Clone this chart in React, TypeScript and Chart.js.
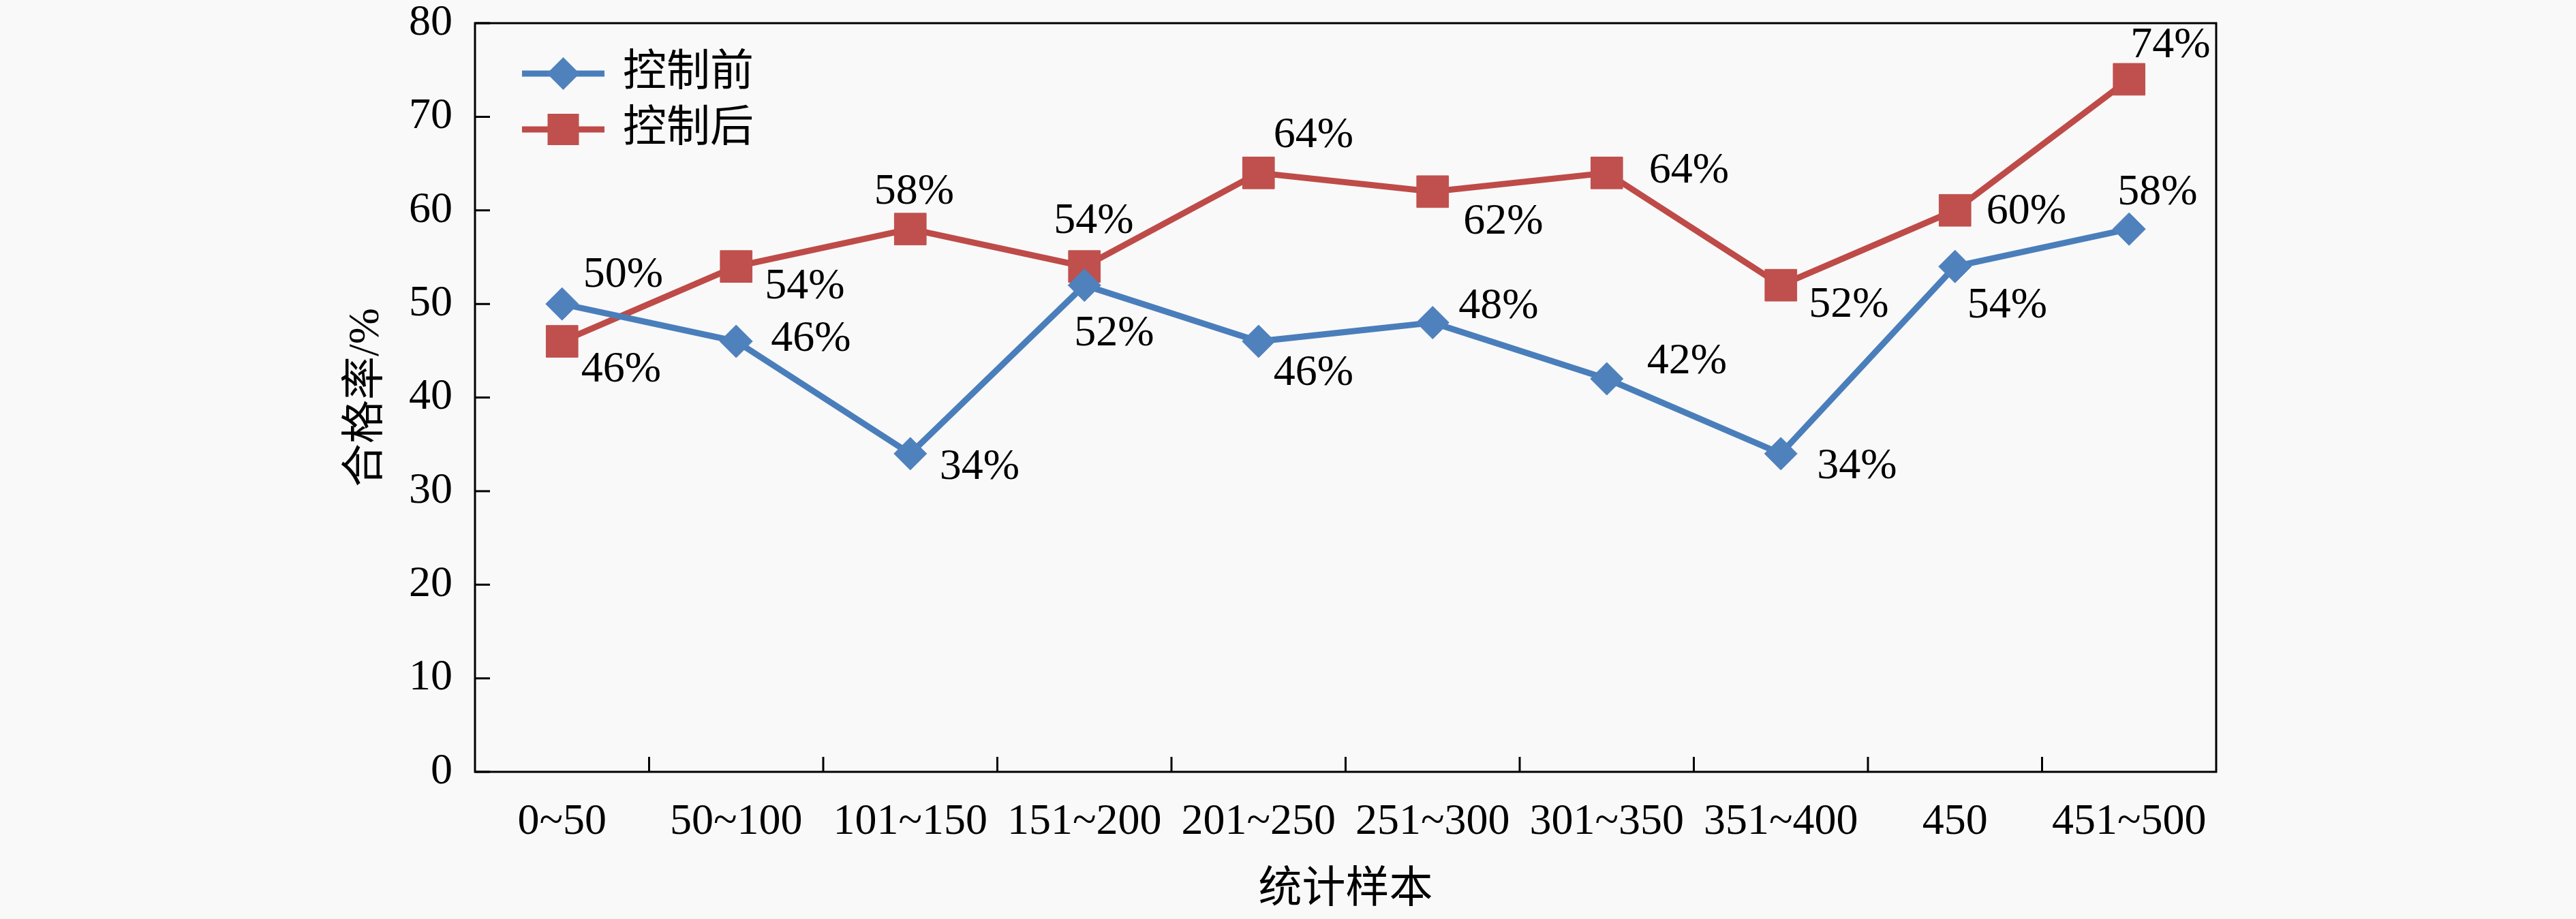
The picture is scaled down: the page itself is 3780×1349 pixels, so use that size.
import { useEffect, useRef } from "react";
import { Chart, registerables } from "chart.js";

Chart.register(...registerables);

// 统计样本分组
const categories = [
  "0~50",
  "50~100",
  "101~150",
  "151~200",
  "201~250",
  "251~300",
  "301~350",
  "351~400",
  "450",
  "451~500",
];

// 合格率 (%)
const beforeValues = [50, 46, 34, 52, 46, 48, 42, 34, 54, 58];
const afterValues = [46, 54, 58, 54, 64, 62, 64, 52, 60, 74];

const seriesNames = ["控制前", "控制后"];
const yTickValues = [0, 10, 20, 30, 40, 50, 60, 70, 80];

const xTitle = "统计样本";
const yTitle = "合格率/%";

// 数据标签相对点的偏移 [左边缘 dx, 中心 dy]
const beforeLabelOffsets = [
  [31, -42], [51, -3], [43, 20], [-15, 72], [22, 47],
  [38, -23], [59, -25], [53, 19], [18, 58], [-17, -53],
];
const afterLabelOffsets = [
  [28, 42], [42, 30], [-53, -54], [-45, -66], [22, -55],
  [45, 45], [62, -3], [41, 30], [46, 2], [2, -49],
];

const BLUE_LINE = "#4A7EBB";
const BLUE_MARK = "#4F81BD";
const RED_LINE = "#BE4B48";
const RED_MARK = "#C0504D";
const FONT_FAMILY = '"Liberation Serif", "Noto Sans CJK SC", serif';
const FONT_SIZE = 64;

const decorPlugin = {
  id: "decor",
  afterDatasetsDraw(chart: any) {
    const { ctx } = chart;
    const offsets = [beforeLabelOffsets, afterLabelOffsets];
    ctx.save();
    ctx.font = `${FONT_SIZE}px ${FONT_FAMILY}`;
    ctx.fillStyle = "#000";
    ctx.textAlign = "left";
    ctx.textBaseline = "middle";
    chart.data.datasets.forEach((ds: any, di: number) => {
      const meta = chart.getDatasetMeta(di);
      meta.data.forEach((pt: any, i: number) => {
        const [dx, dy] = offsets[di][i];
        ctx.fillText(`${ds.data[i]}%`, pt.x + dx, pt.y + dy);
      });
    });
    ctx.restore();
  },
  afterDraw(chart: any) {
    const { ctx, chartArea } = chart;
    const { left, right, top, bottom } = chartArea;
    const xScale = chart.scales.x;
    const yScale = chart.scales.y;
    ctx.save();

    // 边框
    ctx.strokeStyle = "#000";
    ctx.lineWidth = 3;
    ctx.strokeRect(left, top, right - left, bottom - top);

    // 内向刻度
    const tick = 22;
    ctx.beginPath();
    yTickValues.forEach((v) => {
      const y = yScale.getPixelForValue(v);
      ctx.moveTo(left, y);
      ctx.lineTo(left + tick, y);
    });
    const half = (xScale.getPixelForValue(1) - xScale.getPixelForValue(0)) / 2;
    for (let i = 1; i < categories.length; i++) {
      const x = xScale.getPixelForValue(i) - half;
      ctx.moveTo(x, bottom);
      ctx.lineTo(x, bottom - tick);
    }
    ctx.stroke();

    // 图例
    chart.data.datasets.forEach((ds: any, i: number) => {
      const y = top + 74 + i * 82;
      const x0 = left + 69;
      const x1 = left + 190;
      const cx = (x0 + x1) / 2;
      ctx.strokeStyle = ds.borderColor;
      ctx.lineWidth = ds.borderWidth;
      ctx.beginPath();
      ctx.moveTo(x0, y);
      ctx.lineTo(x1, y);
      ctx.stroke();
      ctx.fillStyle = ds.backgroundColor;
      ctx.beginPath();
      if (ds.pointStyle === "rect") {
        const s = 23;
        ctx.rect(cx - s, y - s, 2 * s, 2 * s);
      } else {
        const r = 24;
        ctx.moveTo(cx - r, y);
        ctx.lineTo(cx, y - r);
        ctx.lineTo(cx + r, y);
        ctx.lineTo(cx, y + r);
        ctx.closePath();
      }
      ctx.fill();
      ctx.fillStyle = "#000";
      ctx.font = `${FONT_SIZE}px ${FONT_FAMILY}`;
      ctx.textAlign = "left";
      ctx.textBaseline = "middle";
      ctx.fillText(ds.label, left + 217, y);
    });

    // 坐标轴标题
    ctx.fillStyle = "#000";
    ctx.font = `${FONT_SIZE}px ${FONT_FAMILY}`;
    ctx.textAlign = "center";
    ctx.textBaseline = "middle";
    ctx.fillText(xTitle, (left + right) / 2, 1307);
    ctx.translate(538, (top + bottom) / 2);
    ctx.rotate(-Math.PI / 2);
    ctx.fillText(yTitle, 0, 0);

    ctx.restore();
  },
};

const PassRateChart = () => {
  const canvasRef = useRef<HTMLCanvasElement>(null);

  useEffect(() => {
    document.body.style.margin = "0";
    document.body.style.background = "#f9f9f9";
    if (!canvasRef.current) return;
    const ctx = canvasRef.current.getContext("2d");
    if (!ctx) return;

    const tickFont = { family: FONT_FAMILY, size: FONT_SIZE };

    const chart = new Chart(ctx, {
      type: "line",
      data: {
        labels: categories,
        datasets: [
          {
            label: seriesNames[0],
            data: beforeValues,
            borderColor: BLUE_LINE,
            backgroundColor: BLUE_MARK,
            borderWidth: 9,
            pointStyle: "rectRot",
            pointRadius: 24,
            pointBorderWidth: 1,
            pointBorderColor: BLUE_MARK,
            pointBackgroundColor: BLUE_MARK,
            tension: 0,
          },
          {
            label: seriesNames[1],
            data: afterValues,
            borderColor: RED_LINE,
            backgroundColor: RED_MARK,
            borderWidth: 9,
            pointStyle: "rect",
            pointRadius: 33,
            pointBorderWidth: 1,
            pointBorderColor: RED_MARK,
            pointBackgroundColor: RED_MARK,
            tension: 0,
          },
        ],
      },
      options: {
        animation: false,
        responsive: true,
        maintainAspectRatio: false,
        layout: { padding: { top: 34, right: 528, left: 0, bottom: 0 } },
        plugins: {
          legend: { display: false },
          tooltip: { enabled: false },
        },
        scales: {
          x: {
            type: "category",
            offset: true,
            grid: { display: false },
            border: { display: false },
            ticks: {
              font: tickFont,
              color: "#000",
              padding: 28,
              maxRotation: 0,
              autoSkip: false,
            },
            afterFit: (scale: any) => {
              scale.height = 216;
              scale.paddingLeft = 0;
              scale.paddingRight = 0;
            },
          },
          y: {
            min: 0,
            max: 80,
            grid: { display: false },
            border: { display: false },
            ticks: {
              stepSize: 10,
              font: tickFont,
              color: "#000",
              padding: 25,
            },
            afterFit: (scale: any) => {
              scale.width = 697;
              scale.paddingTop = 0;
              scale.paddingBottom = 0;
            },
          },
        },
      },
      plugins: [decorPlugin],
    });

    return () => chart.destroy();
  }, []);

  return (
    <div style={{ width: 3780, height: 1349, position: "relative" }}>
      <canvas ref={canvasRef}></canvas>
    </div>
  );
};

export default function App() {
  return <PassRateChart />;
}
